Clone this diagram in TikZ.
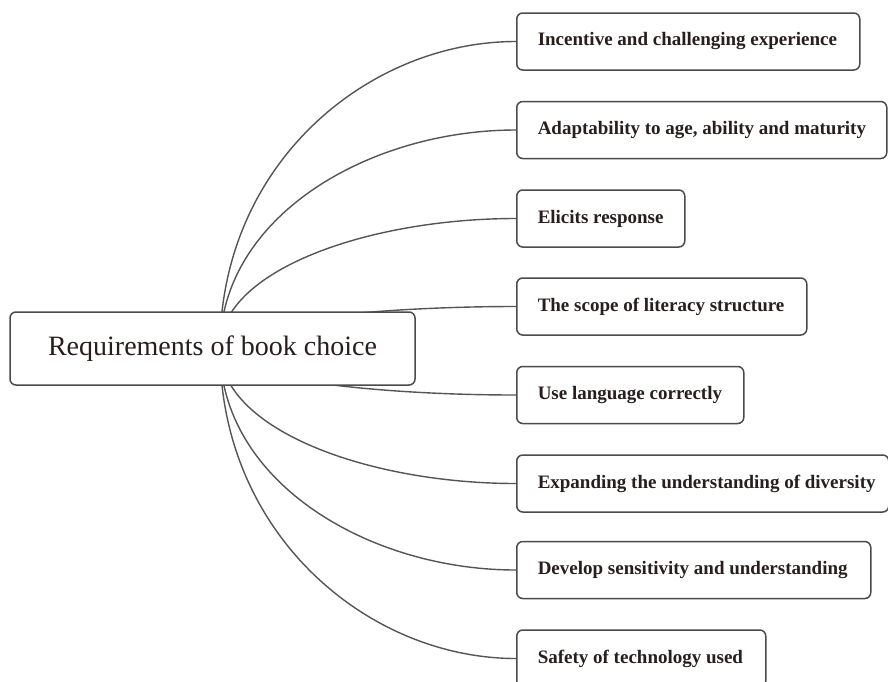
\documentclass[tikz,border=0pt]{standalone}
\usepackage{fontspec}
\setmainfont{Liberation Serif}
\pgfdeclarelayer{bg}
\pgfsetlayers{bg,main}
\definecolor{linegray}{RGB}{85,85,85}
\definecolor{boxgray}{RGB}{75,75,75}
\definecolor{txt}{RGB}{40,30,30}
\newcommand{\leaftext}[2]{\makebox[\dimexpr#1pt-42pt\relax][l]{#2}}
\begin{document}
\begin{tikzpicture}[x=1pt,y=-1pt,
  hubbox/.style={draw=boxgray,line width=1.5pt,rounded corners=6pt,fill=white,
    minimum width=405pt,minimum height=73pt,inner sep=0pt,text=txt,
    font=\fontsize{28}{32}\selectfont},
  leafbox/.style={draw=boxgray,line width=1.5pt,rounded corners=6pt,fill=white,
    anchor=west,minimum height=57pt,inner xsep=21pt,inner ysep=0pt,text=txt,
    font=\fontsize{19}{22}\selectfont\bfseries},
  link/.style={draw=linegray,line width=1.4pt}]
\useasboundingbox (0,0) rectangle (888,681);
\node[hubbox] (hub) at (212.5,348.5) {Requirements of book choice};
\coordinate (o) at (220,348.5);
\node[leafbox] (n1) at (516,41.5) {\leaftext{343}{Incentive and challenging experience}};
\node[leafbox] (n2) at (516,130) {\leaftext{370}{Adaptability to age, ability and maturity}};
\node[leafbox] (n3) at (516,218.5) {\leaftext{168}{Elicits response}};
\node[leafbox] (n4) at (516,306.5) {\leaftext{290}{The scope of literacy structure}};
\node[leafbox] (n5) at (516,395) {\leaftext{227}{Use language correctly}};
\node[leafbox] (n6) at (516,483.5) {\leaftext{372}{Expanding the understanding of diversity}};
\node[leafbox] (n7) at (516,570) {\leaftext{354}{Develop sensitivity and understanding}};
\node[leafbox] (n8) at (516,658.5) {\leaftext{249}{Safety of technology used}};
\begin{pgfonlayer}{bg}
\fill[white] (0,0) rectangle (888,681);
\draw[link] (o) .. controls (220,163.7) and (368,41.5) .. (n1.west);
\draw[link] (o) .. controls (220,217) and (368,130) .. (n2.west);
\draw[link] (o) .. controls (220,270.5) and (368,218.5) .. (n3.west);
\draw[link] (o) .. controls (220,323.5) and (368,306.5) .. (n4.west);
\draw[link] (o) .. controls (220,376.5) and (368,395) .. (n5.west);
\draw[link] (o) .. controls (220,429.5) and (368,483.5) .. (n6.west);
\draw[link] (o) .. controls (220,481.5) and (368,570) .. (n7.west);
\draw[link] (o) .. controls (220,534.5) and (368,658.5) .. (n8.west);
\end{pgfonlayer}
\end{tikzpicture}
\end{document}
